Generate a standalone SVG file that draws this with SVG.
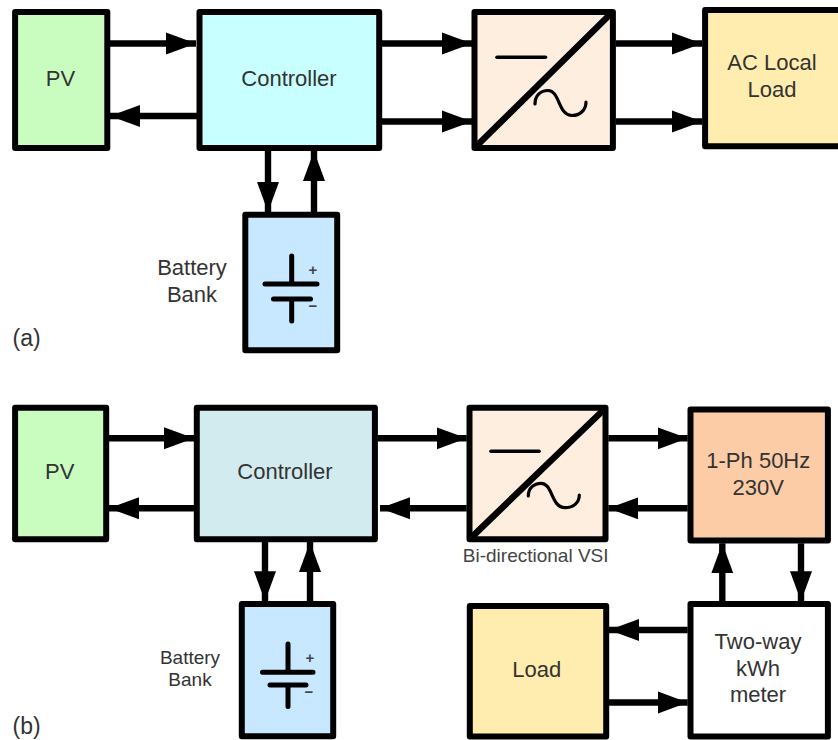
<svg xmlns="http://www.w3.org/2000/svg" width="838" height="740" viewBox="0 0 838 740">
<style>
.box{stroke:#000;stroke-width:6;stroke-linejoin:round}
text{font-family:"Liberation Sans",Arial,sans-serif;font-size:22px;fill:#333;text-anchor:middle}
.c{fill:none;stroke:#000;stroke-width:6.4;marker-end:url(#ah)}
.sym{fill:none;stroke:#000;stroke-width:5;stroke-linecap:round}
.dash{fill:none;stroke:#000;stroke-width:3.6;stroke-linecap:round}
.diag{stroke:#000;stroke-width:6.5;stroke-linecap:round}
.sine{fill:none;stroke:#000;stroke-width:3.2;stroke-linecap:round}
.sm{font-size:15px;font-weight:bold;fill:#444}
</style>
<defs>
<marker id="ah" markerUnits="userSpaceOnUse" markerWidth="31" markerHeight="24" refX="30" refY="12" orient="auto">
<path d="M0 1L30 12L0 23Z" fill="#000"/>
</marker>
</defs>
<rect width="838" height="740" fill="#fff"/>
<g id="connectors">
<path class="c" d="M110 43.5H196"/>
<path class="c" d="M197 116H110"/>
<path class="c" d="M382 43.5H472"/>
<path class="c" d="M382 121.5H472"/>
<path class="c" d="M615.7 43.5H702"/>
<path class="c" d="M615.7 121.5H702"/>
<path class="c" d="M268 151V212"/>
<path class="c" d="M314 212V151"/>
<path class="c" d="M109 438.3H194"/>
<path class="c" d="M377.7 438.3H466.7"/>
<path class="c" d="M608.3 438.3H687.7"/>
<path class="c" d="M194 508.3H109"/>
<path class="c" d="M466.7 508.3H380"/>
<path class="c" d="M687.7 508.3H608.3"/>
<path class="c" d="M265 542V601.3"/>
<path class="c" d="M310 601.3V542"/>
<path class="c" d="M722.3 601.3V543.3"/>
<path class="c" d="M801 543.3V601.3"/>
<path class="c" d="M687.7 630H609"/>
<path class="c" d="M609 702.5H687.7"/>
</g>
<g id="pv-a"><rect class="box" x="15.1" y="12.1" width="92.2" height="135.8" fill="#c9fdc0"/><text x="60.5" y="86">PV</text></g>
<g id="controller-a"><rect class="box" x="199.5" y="12.1" width="179.7" height="135.8" fill="#c8ffff"/><text x="289" y="86">Controller</text></g>
<g id="converter-a"><rect class="box" x="474.5" y="12.1" width="138.4" height="135.8" fill="#fdeee0"/>
<path class="diag" d="M476 146.5L611 13.5"/><path class="dash" d="M497 57.3H545.5"/>
<path class="sine" d="M535 104C535 95 541 90.5 548 90.5C560 90.5 558 115.5 572 115.5C580 115.5 586 110 586 102"/></g>
<g id="ac-load-a"><rect class="box" x="705.1" y="10.1" width="145" height="136.1" fill="#ffedb0"/><text x="772" y="70">AC Local</text><text x="772" y="97">Load</text></g>
<g id="battery-a"><rect class="box" x="245.3" y="214.8" width="91.9" height="135.4" fill="#c8e8ff"/>
<path class="sym" d="M291.7 256V284M265 284H317M273.5 299H310.5M291.7 299V321"/>
<text class="sm" x="313" y="275">+</text><text class="sm" x="313" y="311">−</text></g>
<g id="battery-label-a"><text x="192" y="275">Battery</text><text x="192" y="302">Bank</text></g>
<text x="12.5" y="346" style="text-anchor:start;font-size:23px">(a)</text>
<g id="pv-b"><rect class="box" x="15.1" y="407.8" width="91.1" height="131.4" fill="#c9fdc0"/><text x="59.7" y="479.3">PV</text></g>
<g id="controller-b"><rect class="box" x="196.8" y="407.8" width="178.1" height="131.4" fill="#d2ebef"/><text x="285" y="479.3">Controller</text></g>
<g id="converter-b"><rect class="box" x="469.5" y="407.8" width="136" height="131.4" fill="#fdeee0"/>
<path class="diag" d="M471 537.8L604 409.5"/><path class="dash" d="M491 451.3H539"/>
<path class="sine" d="M528.3 496C528.3 488 534 483.3 541 483.3C553 483.3 551 507.7 565 507.7C573 507.7 579.3 503 579.3 495"/></g>
<text id="vsi-label" x="535.7" y="561.7" style="font-size:19px;fill:#444">Bi-directional VSI</text>
<g id="grid-b"><rect class="box" x="690.5" y="409.5" width="137.4" height="131" fill="#fbcca6"/><text x="758.3" y="468.3">1-Ph 50Hz</text><text x="758.3" y="495">230V</text></g>
<g id="battery-b"><rect class="box" x="241.8" y="604.1" width="91.4" height="132.1" fill="#c8e8ff"/>
<path class="sym" d="M288 644V672.3M262.5 672.3H313M270 685H306M288 685V706.5"/>
<text class="sm" x="310" y="663">+</text><text class="sm" x="309" y="697">−</text></g>
<g id="battery-label-b"><text x="190" y="664" style="font-size:19px">Battery</text><text x="190" y="686" style="font-size:19px">Bank</text></g>
<g id="load-b"><rect class="box" x="469.8" y="606.1" width="136.4" height="130.4" fill="#ffedb0"/><text x="536.7" y="677.3">Load</text></g>
<g id="meter-b"><rect class="box" x="690.5" y="604.1" width="137.4" height="132.4" fill="#fff"/><text x="758" y="649.3">Two-way</text><text x="758" y="675.7">kWh</text><text x="758" y="701.7">meter</text></g>
<text x="12.5" y="734" style="text-anchor:start;font-size:23px">(b)</text>
</svg>
